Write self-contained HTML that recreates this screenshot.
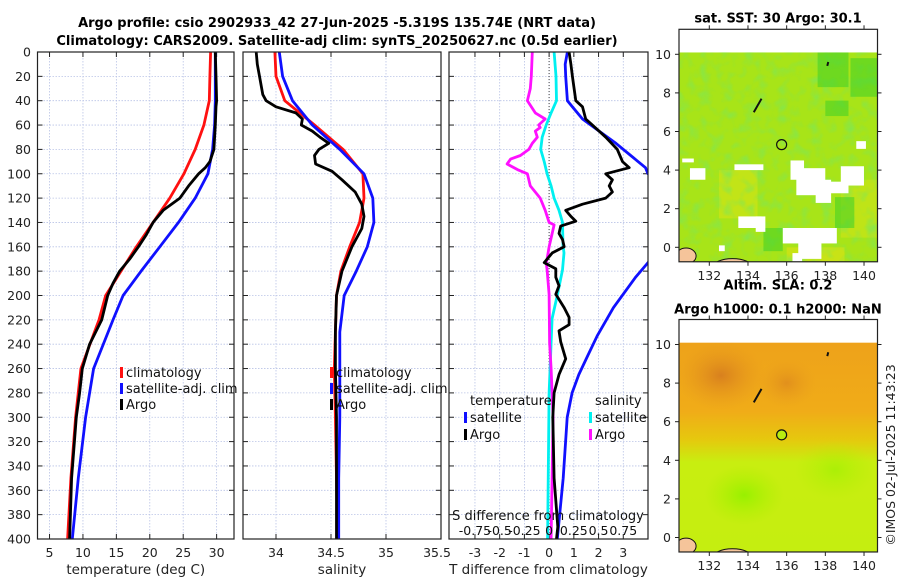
<!DOCTYPE html>
<html><head><meta charset="utf-8">
<style>
html,body{margin:0;padding:0;background:#fff;}
svg{display:block;font-family:"DejaVu Sans","Liberation Sans",sans-serif;}
</style></head>
<body>
<svg id="fig" width="900" height="580" viewBox="0 0 900 580" xmlns="http://www.w3.org/2000/svg">
<defs>
<filter id="mottle" x="0" y="0" width="100%" height="100%">
<feTurbulence type="fractalNoise" baseFrequency="0.09" numOctaves="2" seed="4" result="n"/>
<feColorMatrix in="n" type="matrix" values="0 0 0 0 0.2  0 0 0 0 0.8  0 0 0 0 0.1  2.2 0 0 0 -1.0"/>
</filter>
</defs>
<text x="337" y="27" text-anchor="middle" font-size="13" font-weight="bold">Argo profile: csio 2902933_42 27-Jun-2025 -5.319S 135.74E (NRT data)</text>
<text x="337" y="45" text-anchor="middle" font-size="13" font-weight="bold">Climatology: CARS2009. Satellite-adj clim: synTS_20250627.nc (0.5d earlier)</text>
<g id="panels"></g>
<g id="maps"></g>
<text transform="translate(895,455) rotate(-90)" text-anchor="middle" font-size="12.5" fill="#222">©IMOS 02-Jul-2025 11:43:23</text>
</svg>
<script>
// ---------- data ----------
const depthTclim = [0,20,40,60,80,100,120,140,160,180,200,220,260,300,350,400];
const climT = [29.1,29.0,28.9,28.1,26.8,25.1,23.0,20.5,18.0,15.7,13.4,12.4,9.7,8.9,8.2,7.7];
const satT = [29.8,29.8,29.8,29.7,29.4,28.7,26.8,24.3,21.5,18.7,16.0,14.5,11.6,10.4,9.3,8.4];
const depthTargo = [0,20,40,45,60,80,90,95,100,110,120,130,140,150,160,170,180,190,200,220,240,260,280,300,350,400];
const argoT = [29.8,29.9,30.0,29.9,29.8,29.6,29.0,28.3,27.3,25.8,24.5,22.0,20.5,19.5,18.3,17.0,15.5,14.5,13.7,12.8,11.0,9.9,9.5,9.0,8.3,8.0];

const depthSclim = [0,20,40,60,80,100,120,140,160,180,200,230,260,300,350,400];
const climS = [33.99,34.0,34.08,34.35,34.61,34.79,34.80,34.76,34.67,34.59,34.55,34.54,34.53,34.54,34.55,34.56];
const satS = [34.03,34.06,34.15,34.33,34.58,34.80,34.88,34.89,34.83,34.73,34.62,34.58,34.58,34.58,34.57,34.57];
const depthSargo = [0,10,20,30,35,40,45,50,55,60,65,70,75,80,85,92,98,105,115,125,135,145,160,180,200,230,260,300,350,400];
const argoS = [33.82,33.83,33.85,33.87,33.88,33.91,34.0,34.18,34.24,34.23,34.33,34.40,34.48,34.39,34.35,34.36,34.51,34.60,34.72,34.78,34.80,34.78,34.69,34.60,34.55,34.54,34.54,34.55,34.55,34.55];

const depthArgoTd = [0,10,20,30,40,45,55,60,70,80,90,95,100,105,110,115,120,125,130,135,139,143,149,154,160,165,173,178,185,192,199,210,218,224,229,238,252,265,280,300,350,390,400];
const argoTdiff = [0.81,0.88,0.94,1.01,1.08,1.35,1.48,1.75,2.29,2.76,2.97,3.24,2.29,2.56,2.43,2.56,2.29,1.35,0.67,0.88,1.08,0.47,0.40,0.54,0.61,0.13,-0.2,0.27,0.27,0.40,0.27,0.61,0.81,0.81,0.40,0.47,0.67,0.40,0.20,0.15,0.2,0.35,0.3];
const depthSatTd = [0,10,20,40,45,55,65,75,85,95,100,110,160,173,185,210,233,250,265,280,300,350,400];
const satTdiff = [0.74,0.65,0.67,0.74,0.94,1.35,2.02,2.7,3.3,3.9,4.0,4.6,4.6,4.0,3.5,2.6,1.95,1.55,1.2,0.93,0.73,0.57,0.33];
const depthSatSd = [0,20,40,50,60,70,80,90,100,110,120,130,140,159,165,179,199,219,239,260,280,320,360,400];
const satSdiff = [0.05,0.07,0.075,0.02,-0.03,-0.07,-0.085,-0.05,-0.02,0.02,0.05,0.1,0.135,0.14,0.15,0.135,0.085,0.03,0.02,0.01,0,-0.005,-0.01,-0.015];
const depthArgoSd = [0,20,30,40,50,55,60,62,65,70,75,80,85,88,92,97,100,110,120,130,140,142,160,170,173,179,199,239,260,280,300,400];
const argoSdiff = [-0.17,-0.18,-0.19,-0.22,-0.14,-0.04,-0.105,-0.09,-0.14,-0.12,-0.17,-0.205,-0.29,-0.39,-0.425,-0.31,-0.22,-0.19,-0.09,-0.04,0,0.05,0,-0.02,-0.03,-0.02,0,0.005,0.02,0.03,0.04,0.02];

const depthTicks = [0,20,40,60,80,100,120,140,160,180,200,220,240,260,280,300,320,340,360,380,400];
const tempTicks = [5,10,15,20,25,30];
const salTicks = [34,34.5,35,35.5];
const diffTicks = [-3,-2,-1,0,1,2,3];
const sDiffTickLabels = ["-0.75","-0.5","-0.25","0","0.25","0.5","0.75"];
const sDiffTickVals = [-0.75,-0.5,-0.25,0,0.25,0.5,0.75];
const mapLatTicks = [0,2,4,6,8,10];
const mapLonTicks = [132,134,136,138,140];
const argoLon = [135.74];
const argoLat = [5.319];

// ---------- helpers ----------
const NS = "http://www.w3.org/2000/svg";
function mk(tag, attrs, parent){ const e=document.createElementNS(NS,tag); for(const k in attrs) e.setAttribute(k,attrs[k]); parent.appendChild(e); return e; }
const Y0=52, Y1=539;
function yD(d){ return Y0 + d*(Y1-Y0)/400; }

const panels = [
  {name:"temperature", x0:37.5, x1:234, v0:3.2, v1:32.6, ticks:tempTicks, title:"temperature (deg C)"},
  {name:"salinity", x0:243, x1:441, v0:33.7, v1:35.5, ticks:salTicks, title:"salinity"},
  {name:"difference", x0:449, x1:648, v0:-4.05, v1:4.0, ticks:diffTicks, title:"T difference from climatology"}
];
function xs(p,v){ return p.x0 + (v-p.v0)*(p.x1-p.x0)/(p.v1-p.v0); }

const G = document.getElementById("panels");
panels.forEach((p,i)=>{
  const g = mk("g",{},G);
  
  
  const clipId="clip"+i;
  const cp=mk("clipPath",{id:clipId},g);
  mk("rect",{x:p.x0,y:Y0,width:p.x1-p.x0,height:Y1-Y0},cp);
  depthTicks.forEach(d=>{
    const l=mk("line",{x1:p.x0,x2:p.x1,y1:yD(d),y2:yD(d),stroke:"#b9c3e6","stroke-width":0.8,"stroke-dasharray":"1.5,1.5"},g);
    
    
  });
  p.ticks.forEach(t=>{
    const x=Math.min(xs(p,t),p.x1);
    if(x<p.x1-1){
      const l=mk("line",{x1:x,x2:x,y1:Y0,y2:Y1,stroke:"#b9c3e6","stroke-width":0.8,"stroke-dasharray":"1.5,1.5"},g);
      
      
    }
    mk("line",{x1:x,x2:x,y1:Y1,y2:Y1-5,stroke:"#222","stroke-width":1},g);
    mk("line",{x1:x,x2:x,y1:Y0,y2:Y0+5,stroke:"#222","stroke-width":1},g);
    const lx = Math.min(x, p.x1-4);
    const tl=mk("text",{x:lx,y:557,"text-anchor":"middle","font-size":12.5,fill:"#222"},g);
    tl.textContent=String(t);
    
    
  });
  depthTicks.forEach(d=>{
    mk("line",{x1:p.x0,x2:p.x0+5,y1:yD(d),y2:yD(d),stroke:"#222","stroke-width":1},g);
    mk("line",{x1:p.x1,x2:p.x1-5,y1:yD(d),y2:yD(d),stroke:"#222","stroke-width":1},g);
  });
  if(i===0){
    depthTicks.forEach(d=>{
      const t=mk("text",{x:31,y:yD(d)+4.5,"text-anchor":"end","font-size":12.5,fill:"#222"},g);
      t.textContent=String(d);
      
      
    });
  }
  const at=mk("text",{x:(p.x0+p.x1)/2,y:574,"text-anchor":"middle","font-size":13.5,fill:"#222"},g);
  at.textContent=p.title;
  
  
  p.g=g; p.clip=clipId;
});

function series(p, depths, vals, color, name, scale){
  scale = scale||1;
  const pts = depths.map((d,k)=> xs(p, vals[k]*scale).toFixed(1)+","+yD(d).toFixed(1)).join(" ");
  const pl = mk("polyline",{points:pts,fill:"none",stroke:color,"stroke-width":2.8,"stroke-linejoin":"round","clip-path":"url(#"+p.clip+")"},p.g);
  
  
}
const [P1,P2,P3]=panels;
const zl=mk("line",{x1:xs(P3,0),x2:xs(P3,0),y1:Y0,y2:Y1,stroke:"#444","stroke-width":1,"stroke-dasharray":"1,2"},P3.g);



series(P1, depthTclim, climT, "#ff1010", "climatology-temperature-line");
series(P1, depthTclim, satT, "#1010ff", "satellite-temperature-line");
series(P1, depthTargo, argoT, "#000", "argo-temperature-line");
series(P2, depthSclim, climS, "#ff1010", "climatology-salinity-line");
series(P2, depthSclim, satS, "#1010ff", "satellite-salinity-line");
series(P2, depthSargo, argoS, "#000", "argo-salinity-line");
series(P3, depthSatSd, satSdiff, "#00f0f0", "satellite-salinity-diff-line", 4);
series(P3, depthArgoSd, argoSdiff, "#ff10ff", "argo-salinity-diff-line", 4);
series(P3, depthSatTd, satTdiff, "#1010ff", "satellite-temperature-diff-line");
series(P3, depthArgoTd, argoTdiff, "#000", "argo-temperature-diff-line");

panels.forEach(p=>{
  const r=mk("rect",{x:p.x0,y:Y0,width:p.x1-p.x0,height:Y1-Y0,fill:"none",stroke:"#222","stroke-width":1.2},p.g);
  
  
});

function legend(g, x, y, color, label, name){
  const lg=mk("g",{},g);
  
  
  mk("rect",{x:x,y:y-10,width:3,height:11,fill:color},lg);
  const t=mk("text",{x:x+6,y:y,"font-size":13,fill:"#111"},lg);
  t.textContent=label;
}
legend(P1.g,120,377,"#ff1010","climatology","legend-climatology");
legend(P1.g,120,393,"#1010ff","satellite-adj. clim","legend-satellite");
legend(P1.g,120,409,"#000","Argo","legend-argo");
legend(P2.g,330,377,"#ff1010","climatology","legend-climatology");
legend(P2.g,330,393,"#1010ff","satellite-adj. clim","legend-satellite");
legend(P2.g,330,409,"#000","Argo","legend-argo");
{
  const t=mk("text",{x:470,y:405,"font-size":13,fill:"#111"},P3.g); t.textContent="temperature";
   
  const s=mk("text",{x:595,y:405,"font-size":13,fill:"#111"},P3.g); s.textContent="salinity";
   
}
legend(P3.g,464,422,"#1010ff","satellite","legend-temp-satellite");
legend(P3.g,464,439,"#000","Argo","legend-temp-argo");
legend(P3.g,589,422,"#00f0f0","satellite","legend-sal-satellite");
legend(P3.g,589,439,"#ff10ff","Argo","legend-sal-argo");
{
  const t=mk("text",{x:548,y:520,"text-anchor":"middle","font-size":13,fill:"#111"},P3.g);
  t.textContent="S difference from climatology";
   
  sDiffTickVals.forEach((v,k)=>{
    const l=mk("text",{x:xs(P3,v*4),y:535,"text-anchor":"middle","font-size":12.5,fill:"#111"},P3.g);
    l.textContent=sDiffTickLabels[k];
     
  });
}

// ---------- maps ----------
const M = document.getElementById("maps");
function makeMap(top, title1, title2, kind){
  const mx0=679, mx1=877.5;
  const lat10 = top+25, latScale=19.3;
  const latY = l => lat10 + (10-l)*latScale;
  const lonX = l => 709.3 + (l-132)*19.34;
  const bottom = latY(-0.75);
  const g=mk("g",{},M);
  
  
  const cid="mclip"+kind;
  const cp=mk("clipPath",{id:cid},g);
  mk("rect",{x:mx0,y:latY(10.1),width:mx1-mx0,height:bottom-latY(10.1)},cp);
  const d=mk("g",{"clip-path":"url(#"+cid+")"},g);
  if(kind==="sst"){
    mk("rect",{x:mx0,y:latY(10.1),width:200,height:230,fill:"#a8e418"},d);
    [[132.5,4,2,2.5,"#c8e418"],[138.8,3.5,2.2,3,"#c4e418"],[136,0,3,1,"#d0e216"]].forEach(b=>{
      mk("rect",{x:lonX(b[0]),y:latY(b[1]),width:b[2]*19.3,height:b[3]*19.3,fill:b[4],opacity:0.8},d);
    });
    mk("rect",{x:mx0,y:latY(10.1),width:200,height:230,filter:"url(#mottle)",opacity:0.75},d);
    [[137.6,10.1,1.6,1.8],[139.3,9.8,1.5,2],[138,7.6,1.2,0.8],[138.5,2.6,1,1.6],[134.8,1,1,1.2]].forEach(b=>{
      mk("rect",{x:lonX(b[0]),y:latY(b[1]),width:b[2]*19.3,height:b[3]*19.3,fill:"#3ed028",opacity:0.55},d);
    });
    [[130.6,4.6,0.6,0.2],[131,4.1,0.8,0.6],[133.3,4.3,1.5,0.3],[136.2,4.5,0.7,1],[136.5,4.1,1.5,1.4],[137.5,3.5,0.8,1.2],[138,3.4,1.2,0.6],[138.8,4.2,1.2,1],[139.6,5.5,0.5,0.4],[133.5,1.6,1.2,0.6],[134.4,1.6,0.5,0.8],[135.8,1,2.8,0.8],[136.6,0.3,1.2,0.9],[132.5,0.1,0.3,0.3],[136.3,-0.3,0.5,0.8]].forEach(b=>{
      mk("rect",{x:lonX(b[0]),y:latY(b[1]),width:b[2]*19.3,height:b[3]*19.3,fill:"#fff"},d);
    });
  } else {
    const defs=mk("defs",{},g);
    const lg=mk("linearGradient",{id:"slaGrad",x1:0,y1:0,x2:0,y2:1},defs);
    [[0,"#eea21a"],[0.3,"#f0ac18"],[0.42,"#e6c80e"],[0.52,"#c8ee10"],[1,"#c4ee10"]].forEach(s=>mk("stop",{offset:s[0],"stop-color":s[1]},lg));
    const rg=mk("radialGradient",{id:"slaBlob"},defs);
    mk("stop",{offset:0,"stop-color":"#d8801e"},rg); mk("stop",{offset:1,"stop-color":"#e89a1c","stop-opacity":0},rg);
    const gg=mk("radialGradient",{id:"slaGreen"},defs);
    mk("stop",{offset:0,"stop-color":"#98f000"},gg); mk("stop",{offset:1,"stop-color":"#b0f000","stop-opacity":0},gg);
    mk("rect",{x:mx0,y:latY(10.1),width:200,height:230,fill:"url(#slaGrad)"},d);
    mk("ellipse",{cx:lonX(132.6),cy:latY(8.4),rx:45,ry:35,fill:"url(#slaBlob)"},d);
    mk("ellipse",{cx:lonX(136),cy:latY(8),rx:30,ry:25,fill:"url(#slaBlob)",opacity:0.6},d);
    mk("ellipse",{cx:lonX(133.8),cy:latY(2.2),rx:40,ry:30,fill:"url(#slaGreen)"},d);
    mk("ellipse",{cx:lonX(138.5),cy:latY(3.5),rx:40,ry:30,fill:"url(#slaGreen)",opacity:0.6},d);
  }
  mk("ellipse",{cx:lonX(133.2),cy:latY(-1.05),rx:20,ry:9,fill:"#f5c49a",stroke:"#111","stroke-width":1},d);
  mk("ellipse",{cx:lonX(130.8),cy:latY(-0.45),rx:10,ry:8,fill:"#f5c49a",stroke:"#111","stroke-width":1},d);
  mk("path",{d:`M${lonX(134.3)},${latY(7)} L${lonX(134.7)},${latY(7.7)}`,stroke:"#111","stroke-width":2},d);
  mk("path",{d:`M${lonX(138.1)},${latY(9.4)} L${lonX(138.15)},${latY(9.6)}`,stroke:"#111","stroke-width":2},d);
  const c=mk("circle",{cx:lonX(argoLon[0]),cy:latY(argoLat[0]),r:5,fill:kind==="sst"?"none":"#b8ec10",stroke:"#111","stroke-width":1.2},g);
  
  
  const fr=mk("rect",{x:mx0,y:top,width:mx1-mx0,height:bottom-top,fill:"none",stroke:"#222","stroke-width":1.2},g);
   
  mapLatTicks.forEach(l=>{
    mk("line",{x1:mx0,x2:mx0-4,y1:latY(l),y2:latY(l),stroke:"#222"},g);
    mk("line",{x1:mx1,x2:mx1+4,y1:latY(l),y2:latY(l),stroke:"#222"},g);
    const t=mk("text",{x:671,y:latY(l)+4.5,"text-anchor":"end","font-size":12.5,fill:"#222"},g);
    t.textContent=String(l);
     
  });
  mapLonTicks.forEach(l=>{
    mk("line",{x1:lonX(l),x2:lonX(l),y1:bottom,y2:bottom+4,stroke:"#222"},g);
    mk("line",{x1:lonX(l),x2:lonX(l),y1:top,y2:top-4,stroke:"#222"},g);
    const t=mk("text",{x:lonX(l),y:bottom+18,"text-anchor":"middle","font-size":12.5,fill:"#222"},g);
    t.textContent=String(l);
     
  });
  const t1=mk("text",{x:778,y:top-(title2?30:7),"text-anchor":"middle","font-size":13,"font-weight":"bold"},g);
  t1.textContent=title1;
   
  if(title2){
    const t2=mk("text",{x:778,y:top-6,"text-anchor":"middle","font-size":13,"font-weight":"bold"},g);
    t2.textContent=title2;
     
  }
}
makeMap(29.3, "sat. SST: 30 Argo: 30.1", null, "sst");
makeMap(319.5, "Altim. SLA: 0.2", "Argo h1000: 0.1 h2000: NaN", "sla");
</script>
</body></html>
